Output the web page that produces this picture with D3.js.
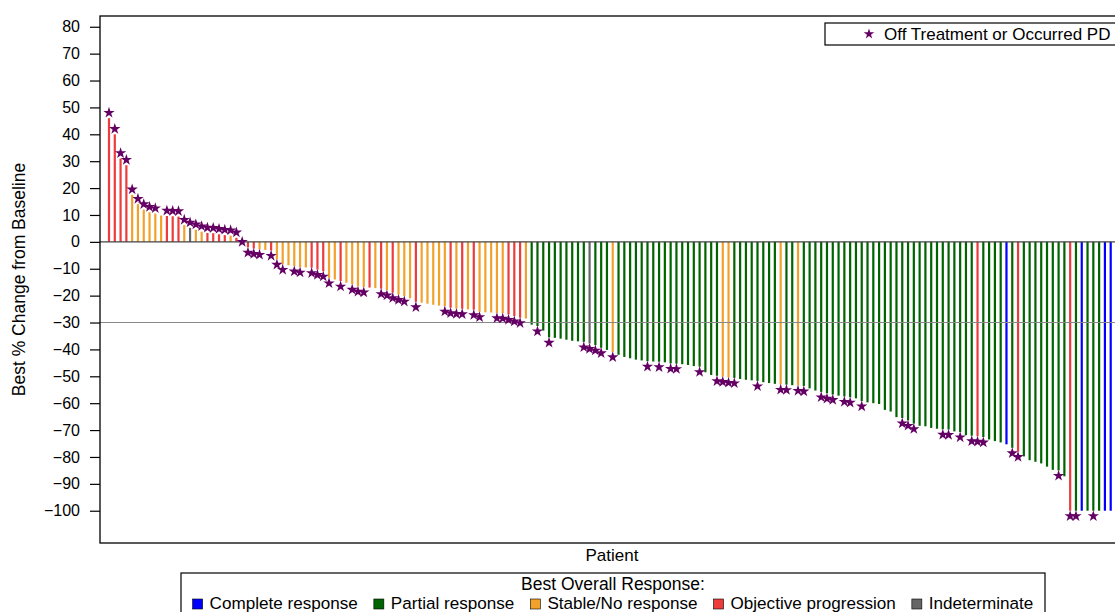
<!DOCTYPE html>
<html lang="en">
<head>
<meta charset="UTF-8">
<title>Best % Change from Baseline</title>
<script src="https://cdn.jsdelivr.net/npm/d3@7"></script>
<style>
    body { margin: 0; background: #fff; }
    text { font-family: "Liberation Sans", Arial, sans-serif; fill: #000; }
</style>
</head>
<body>
<script>

// best % change per patient, sorted (waterfall)
var pctChange = [
    46, 40, 31, 28.5, 17.5, 14, 12, 11, 10.5, 9.8,
    9.6, 9.5, 9.4, 6.2, 5.2, 4.5, 3.8, 3.3, 3.2, 2.8,
    2.5, 2.3, 1.5, 0, -2, -2.5, -2.8, -3, -3.2, -6.5,
    -8.4, -8.7, -9, -9.4, -9.5, -9.6, -10.3, -10.9, -13.4, -14,
    -14.6, -15.2, -15.8, -16.5, -16.8, -17, -17.2, -17.4, -17.9, -18.9,
    -19.6, -20.2, -21, -22.3, -22.6, -23, -23.4, -23.7, -23.9, -24.5,
    -24.8, -24.9, -25.1, -25.2, -26, -26.2, -26.3, -26.4, -26.5, -27,
    -27.6, -28.2, -28.5, -30.8, -31.3, -33, -35.5, -35.7, -36, -36.4,
    -36.8, -37, -37.2, -37.8, -38.4, -39.4, -40.2, -40.9, -42, -42.8,
    -43.3, -43.8, -44.1, -44.4, -44.5, -44.6, -44.8, -45.2, -45.3, -45.5,
    -45.8, -46.2, -46.4, -48.5, -49.5, -49.8, -50.1, -50.4, -50.6, -51,
    -51.3, -51.5, -51.7, -52.2, -52.5, -52.8, -53, -53.1, -53.3, -53.4,
    -53.6, -54.5, -55.3, -55.8, -56.3, -56.8, -57.2, -57.5, -57.8, -58.2,
    -59.2, -59.7, -60, -60.3, -62.5, -63.1, -65.2, -65.5, -66.4, -67.6,
    -68.4, -68.6, -69.2, -69.5, -69.7, -69.8, -70.5, -70.7, -71.9, -72.1,
    -72.3, -72.6, -73.5, -74.1, -74.6, -75.3, -76.6, -78, -79.8, -81.2,
    -81.8, -82.4, -83.6, -84.8, -85, -87.2, -100, -100, -100, -100,
    -100, -100, -100, -100
];

// best overall response: CR, PR, SD, PD, NE
var bestResponse = [
    "PD","PD","PD","PD","SD","SD","SD","SD","SD","SD",
    "PD","PD","PD","SD","NE","SD","SD","PD","PD","PD",
    "PD","SD","PD","SD","PD","PD","SD","SD","PD","SD",
    "SD","SD","SD","SD","SD","PD","PD","PD","SD","SD",
    "PD","SD","SD","SD","SD","PD","SD","PD","SD","PD",
    "SD","SD","SD","PD","SD","SD","SD","SD","SD","PD",
    "SD","PD","SD","PD","SD","SD","SD","SD","SD","PD",
    "PD","PD","SD","PR","PR","PR","PR","PR","PR","PR",
    "PR","PR","PR","NE","PR","PR","PR","SD","PR","PR",
    "PR","PR","PR","PR","PR","PR","PR","PR","PR","PR",
    "PR","PR","PR","PR","PR","PR","SD","SD","PR","PR",
    "PR","PR","PR","PR","PR","PR","SD","PR","PR","SD",
    "PR","PR","PR","PR","PR","PR","PR","PR","PR","PR",
    "PR","PR","PR","PR","PR","PR","PR","PR","PR","PR",
    "PR","PR","PR","PR","PR","PR","PR","PR","PR","PR",
    "PD","PR","PR","PR","PR","CR","PR","PD","PR","PR",
    "PR","PR","PR","PR","PR","PR","PD","PR","CR","PR",
    "PR","PR","CR","CR"
];

// 1 = off treatment or occurred PD
var offTreatment = [
    1,1,1,1,1,1,1,1,1,0,
    1,1,1,1,1,1,1,1,1,1,
    1,1,1,1,1,1,1,0,1,1,
    1,0,1,1,0,1,1,1,1,0,
    1,0,1,1,1,0,0,1,1,1,
    1,1,0,1,0,0,0,0,1,1,
    1,1,0,1,1,0,0,1,1,1,
    1,1,0,0,1,0,1,0,0,0,
    0,0,1,1,1,1,0,1,0,0,
    0,0,0,1,0,1,0,1,1,0,
    0,0,1,0,0,1,1,1,1,0,
    0,0,1,0,0,0,1,1,0,1,
    1,0,0,1,1,1,0,1,1,0,
    1,0,0,0,0,0,0,1,1,1,
    0,0,0,0,1,1,0,1,0,1,
    1,1,0,0,0,0,1,1,0,0,
    0,0,0,0,1,0,1,1,0,0,
    1,0,0,0
];

var responseCodes  = ["CR", "PR", "SD", "PD", "NE"];
var responseLabels = ["Complete response", "Partial response", "Stable/No response",
                      "Objective progression", "Indeterminate"];
var yTicks = d3.range(-100, 81, 10);
var refLine = -30;

var width  = 1115;
var height = 612;
var plot = {left: 100, top: 16, right: 1118, bottom: 543};

var svg = d3.select("body")
    .append("svg")
    .attr("width", width)
    .attr("height", height);

var x = d3.scalePoint()
    .domain(d3.range(pctChange.length))
    .range([109, 1110.7]);

var y = d3.scaleLinear()
    .domain([-112, 84])
    .range([plot.bottom, plot.top]);

var color = d3.scaleOrdinal()
    .domain(responseCodes)
    .range(["#0000ff", "#006400", "#f2a22c", "#ee3b3b", "#666666"]);

// bars
svg.append("g")
    .selectAll("rect")
    .data(pctChange)
    .enter()
    .append("rect")
    .attr("x", function(d, i) { return x(i) - 1.1; })
    .attr("width", 2.2)
    .attr("y", function(d) { return Math.min(y(d), y(0)); })
    .attr("height", function(d) { return Math.abs(y(d) - y(0)); })
    .attr("fill", function(d, i) { return color(bestResponse[i]); });

// zero and reference lines
svg.append("line")
    .attr("x1", plot.left).attr("x2", plot.right)
    .attr("y1", y(0)).attr("y2", y(0))
    .attr("stroke", "#444").attr("stroke-width", 1.3);

svg.append("line")
    .attr("x1", plot.left).attr("x2", plot.right)
    .attr("y1", y(refLine)).attr("y2", y(refLine))
    .attr("stroke", "#888").attr("stroke-width", 1.2);

// stars just past the bar end
var star = d3.symbol().type(d3.symbolStar).size(40);
var starIdx = d3.range(pctChange.length).filter(function(i) { return offTreatment[i]; });
svg.append("g")
    .selectAll("path")
    .data(starIdx)
    .enter()
    .append("path")
    .attr("d", star)
    .attr("transform", function(i) {
        var v = pctChange[i];
        var off = v > 0 ? 2 : (v < 0 ? -2 : 0);
        return "translate(" + x(i) + "," + y(v + off) + ")";
    })
    .attr("fill", "#640064");

// frame
svg.append("rect")
    .attr("x", plot.left).attr("y", plot.top)
    .attr("width", plot.right - plot.left)
    .attr("height", plot.bottom - plot.top)
    .attr("fill", "none")
    .attr("stroke", "#000")
    .attr("stroke-width", 1.3);

// y axis
var yAxis = d3.axisLeft(y)
    .tickValues(yTicks)
    .tickSize(10)
    .tickPadding(10);

var gy = svg.append("g")
    .attr("transform", "translate(" + plot.left + ",0)")
    .call(yAxis);
gy.select(".domain").remove();
gy.selectAll(".tick line").attr("stroke", "#000").attr("stroke-width", 1.2);
gy.selectAll(".tick text")
    .style("font-family", "'Liberation Sans', Arial, sans-serif")
    .style("font-size", "16px")
    .attr("fill", "#000");

// axis titles
svg.append("text")
    .attr("transform", "translate(25," + ((plot.top + plot.bottom) / 2) + ") rotate(-90)")
    .attr("text-anchor", "middle")
    .style("font-size", "17.5px")
    .text("Best % Change from Baseline");

svg.append("text")
    .attr("x", 612)
    .attr("y", 561)
    .attr("text-anchor", "middle")
    .style("font-size", "17px")
    .text("Patient");

// star legend (top right)
svg.append("rect")
    .attr("x", 825).attr("y", 23)
    .attr("width", 310).attr("height", 22)
    .attr("fill", "#fff").attr("stroke", "#000").attr("stroke-width", 1.2);
svg.append("path")
    .attr("d", d3.symbol().type(d3.symbolStar).size(34))
    .attr("transform", "translate(869,34)")
    .attr("fill", "#640064");
svg.append("text")
    .attr("x", 884).attr("y", 40)
    .style("font-size", "17px")
    .text("Off Treatment or Occurred PD");

// response legend (bottom)
var lg = svg.append("g");
lg.append("rect")
    .attr("x", 181).attr("y", 573)
    .attr("width", 864).attr("height", 60)
    .attr("fill", "#fff").attr("stroke", "#000").attr("stroke-width", 1.2);
lg.append("text")
    .attr("x", 613).attr("y", 590)
    .attr("text-anchor", "middle")
    .style("font-size", "17.5px")
    .text("Best Overall Response:");

var items = lg.selectAll("g.item")
    .data(responseCodes)
    .enter()
    .append("g")
    .attr("class", "item");
items.append("rect")
    .attr("width", 10).attr("height", 10)
    .attr("y", 599)
    .attr("fill", function(d) { return color(d); })
    .attr("stroke", "#000").attr("stroke-width", 0.6);
items.append("text")
    .attr("y", 609)
    .style("font-size", "17.1px")
    .text(function(d, i) { return responseLabels[i]; });

var widths = [];
items.select("text").each(function() { widths.push(this.getComputedTextLength()); });
var total = d3.sum(widths) + widths.length * 17 + (widths.length - 1) * 16;
var cx = 613 - total / 2;
items.each(function(d, i) {
    var g = d3.select(this);
    g.select("rect").attr("x", cx);
    g.select("text").attr("x", cx + 17);
    cx += 17 + widths[i] + 16;
});

</script>
</body>
</html>
